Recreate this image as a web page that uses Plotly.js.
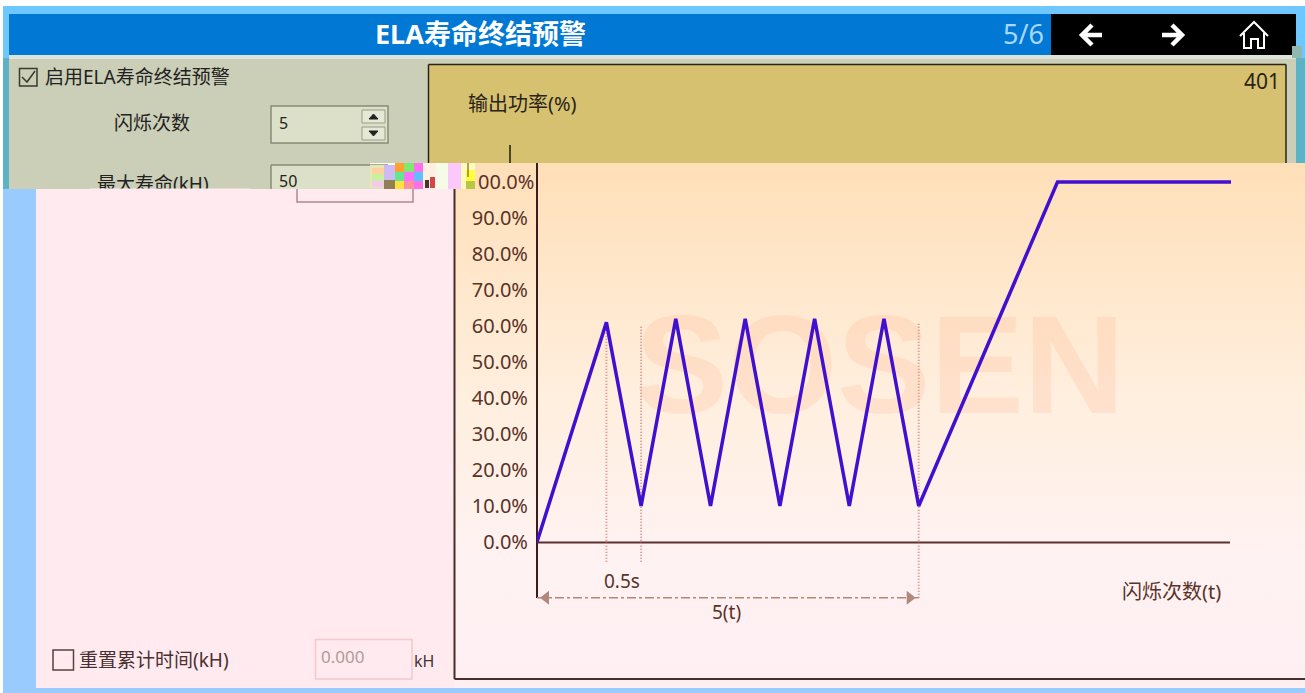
<!DOCTYPE html>
<html><head><meta charset="utf-8">
<script src="https://cdn.plot.ly/plotly-3.0.1.min.js"></script>
<style>
html,body{margin:0;padding:0;background:#fff;overflow:hidden}
#panel{position:absolute;left:454px;top:163px;width:851px;height:530px;background:linear-gradient(#FFDFB8 0%,#FFEFDF 45%,#FFF2F2 75%,#FFEFF3 100%)}
#chart{position:absolute;left:0;top:0;width:1305px;height:693px}
</style></head><body>
<div id="panel"></div><div id="chart"></div>
<script>
// Output-power curve: time in seconds, power in percent
const timeS = [0, 1, 1.5, 2, 2.5, 3, 3.5, 4, 4.5, 5, 5.5, 7.5, 10];
const powerPct = [0, 61, 10, 62, 10, 62, 10, 62, 10, 62, 10, 100, 100];
const yTickVals = [0, 10, 20, 30, 40, 50, 60, 70, 80, 90];
const yTickText = ['0.0%', '10.0%', '20.0%', '30.0%', '40.0%', '50.0%', '60.0%', '70.0%', '80.0%', '90.0%'];
const guideTimes = [1, 1.5, 5.5];
const guideBottoms = [-5.5, -5.5, -15.5];
const guideTops = [60, 60, 61];
const spanTimes = [0.13, 5.37];

const W = 1305, H = 693, L = 537;
const PXX = 69.4, PXY = 3.6, BASE = 542;
const X = p => (p - L) / (W - L), Y = p => 1 - p / H;
const FONT = '"Noto Sans","Noto Sans CJK SC",sans-serif';
const INK = '#5a3328';

function rect(x0, y0, x1, y1, fill, line, lw) {
  return {type:'rect', xref:'paper', yref:'paper', x0:X(x0), x1:X(x1), y0:Y(y1), y1:Y(y0),
    fillcolor:fill, line: line ? {color:line, width:lw||1} : {width:0}, layer:'below'};
}
function path(cmds, color, width, fill) {
  const d = cmds.map(c => c[0] + (c.length > 1 ? X(c[1]) + ',' + Y(c[2]) : '')).join(' ');
  return {type:'path', xref:'paper', yref:'paper', path:d, line:{color:color, width:width},
    fillcolor: fill || 'rgba(0,0,0,0)', layer:'below'};
}
function seg(x0, y0, x1, y1, color, width) {
  return {type:'line', xref:'paper', yref:'paper', x0:X(x0), x1:X(x1), y0:Y(y0), y1:Y(y1),
    line:{color:color, width:width}, layer:'below'};
}
function label(text, px, py, size, color, anchor, extra) {
  return Object.assign({text:text, xref:'paper', yref:'paper', x:X(px), y:Y(py), showarrow:false,
    xanchor:anchor||'left', yanchor:'middle', font:{family:FONT, size:size, color:color||INK}}, extra||{});
}

const shapes = [
  // lower area
  rect(3, 189, 36, 693, '#99CBFF'),
  rect(36, 189, 454, 688, '#FFEBEF'),
  rect(36, 688, 1305, 693, '#99CBFF'),
  rect(297, 180, 413, 202, 'rgba(0,0,0,0)', '#B08890', 1.5),
  // chrome: bands and strips
  rect(3, 6, 1305, 14, '#6EC8FF'),
  rect(3, 14, 9, 58, '#6EC8FF'),
  rect(1296, 14, 1305, 58, '#6EC8FF'),
  rect(3, 58, 9, 189, '#5DB2C6'),
  rect(1296, 58, 1305, 163, '#5DB2C6'),
  rect(9, 14, 1051, 55, '#0078D4'),
  rect(1051, 14, 1296, 55, '#000000'),
  rect(9, 55, 1296, 59, '#DDE4DC'),
  rect(1292, 46, 1302, 58, '#8FB8B0'),
  rect(9, 59, 370, 189, '#CBCFB7'),
  rect(370, 59, 1296, 163, '#CBCFB7'),
  // upper tan box, open at the bottom where the capture is cut
  rect(428.5, 64.5, 1286, 163, '#D6C171'),
  seg(428.5, 64.5, 1286, 64.5, '#2a2418', 1.5),
  seg(428.5, 64.5, 428.5, 163, '#2a2418', 1.5),
  seg(1286, 64.5, 1286, 163, '#2a2418', 1.5),
  seg(510, 145, 510, 163, '#1c1a10', 1.5),
  // nav icons
  path([['M',1102,35],['L',1083,35],['M',1092,25],['L',1082,35],['L',1092,45]], '#fff', 4.5),
  path([['M',1162,35],['L',1181,35],['M',1172,25],['L',1182,35],['L',1172,45]], '#fff', 4.5),
  path([['M',1240,36],['L',1254,22],['L',1268,36],['M',1244,33],['L',1244,48],['L',1251,48],['L',1251,39],['L',1258,39],['L',1258,48],['L',1264,48],['L',1264,33]], '#fff', 2),
  // enable checkbox
  rect(19.5, 68.5, 37, 86, 'rgba(0,0,0,0)', '#3a3a30', 1.5),
  path([['M',22,77],['L',27,82],['L',35,71]], '#3a3a30', 1.5),
  // inputs upper
  rect(271, 106, 388, 143, '#DDE0C8', '#8a8b76', 1.5),
  rect(362, 110, 385, 123, '#E6E8D6', '#9a9b88', 1),
  rect(362, 127, 385, 140, '#E6E8D6', '#9a9b88', 1),
  path([['M',369,119],['L',373.5,114],['L',378,119],['Z']], '#222', 1, '#222'),
  path([['M',369,131],['L',373.5,136],['L',378,131],['Z']], '#222', 1, '#222'),
  rect(271, 165, 388, 189, '#DDE0C8'),
  seg(271, 165, 388, 165, '#8a8b76', 1.5),
  seg(271, 165, 271, 189, '#8a8b76', 1.5),
  // garbled blocks between the two captures
  rect(370, 165, 384, 188, '#E9E7B0'),
  rect(372, 168, 384, 174, '#FFD0A0'), rect(372, 174, 384, 181, '#C8F0A0'), rect(372, 181, 384, 187, '#F5C8F0'),
  rect(384, 165, 395, 180, '#CDBBF2'), rect(384, 180, 395, 189, '#8F7F55'),
  rect(395, 163, 404, 172, '#FFA030'), rect(404, 163, 414, 172, '#80E870'), rect(414, 163, 423, 172, '#FF70F0'),
  rect(395, 172, 404, 181, '#60E890'), rect(404, 172, 414, 181, '#FF70FF'), rect(414, 172, 423, 181, '#60C0FF'),
  rect(395, 181, 404, 189, '#FFE040'), rect(404, 181, 414, 189, '#FF90A0'), rect(414, 181, 423, 189, '#FF70E0'),
  rect(423, 163, 436, 189, '#FFEFE0'),
  rect(425, 180, 429, 188, '#503030'), rect(430, 177, 435, 188, '#D04848'),
  rect(436, 163, 448, 189, '#F6FBE8'),
  rect(448, 163, 461, 189, '#FBC8FB'),
  rect(461, 163, 475, 189, '#FBFBC0'),
  rect(466, 170, 475, 181, '#FFFF40'),
  rect(466, 181, 475, 189, '#B8C840'),
  seg(468, 163, 468, 177, '#9A8020', 1.5),
  // chart frame
  seg(454.5, 189, 454.5, 679, '#4a2c28', 2),
  seg(454.5, 679, 1305, 679, '#4a2c28', 2),
  // chart axes
  seg(537, 163, 537, 598, '#3c1c1c', 2),
  seg(537, 542.5, 1230, 542.5, '#5a3030', 2),
  // reset checkbox and input
  rect(53, 650, 73.5, 670, 'rgba(0,0,0,0)', '#5a4040', 1.5),
  rect(315.5, 639.5, 412, 679, 'rgba(0,0,0,0)', '#F4C8CC', 1.5)
];
// guide lines and time span, on the chart's own scales
guideTimes.forEach((t, i) => shapes.push({type:'line', xref:'x', yref:'y', x0:t, x1:t,
  y0:guideBottoms[i], y1:guideTops[i], line:{color:'#D08888', width:2, dash:'1px,2px'}, layer:'below'}));
shapes.push({type:'line', xref:'x', yref:'y', x0:0, x1:5.5, y0:-15.5, y1:-15.5,
  line:{color:'#B08878', width:1.5, dash:'dashdot'}, layer:'below'});

const traces = [
  {x:[4.94], y:[45.5], mode:'text', text:['SOSEN'], textposition:'middle center', hoverinfo:'skip',
   textfont:{family:'"Liberation Sans",sans-serif', size:140, color:'rgba(255,170,130,0.2)', weight:700}},
  {x:spanTimes, y:[-15.5,-15.5], mode:'markers', hoverinfo:'skip', cliponaxis:false,
   marker:{symbol:['triangle-left','triangle-right'], size:12, color:'#B08880'}},
  {x:timeS, y:powerPct, mode:'lines', line:{color:'#4010D0', width:3.5}, cliponaxis:false, hoverinfo:'skip'}
];

const annotations = [
  label('ELA寿命终结预警', 480, 34, 27, '#FFFFFF', 'center', {font:{family:FONT, size:27, color:'#fff', weight:700}}),
  label('5/6', 1046, 34, 27, '#A8D8FF', 'right'),
  label('启用ELA寿命终结预警', 43, 77, 19, '#222', 'left'),
  label('闪烁次数', 112, 123, 19, '#222', 'left'),
  label('5', 277, 123, 16, '#222', 'left'),
  label('最大寿命(kH)', 95, 184, 19, '#222', 'left'),
  label(' ', 170, 195, 12, '#222', 'center', {width:160, height:12, bgcolor:'#FFEBEF', borderpad:0}),
  label('50', 277, 181, 16, '#222', 'left'),
  label('输出功率(%)', 466, 103, 20, '#2a2418', 'left'),
  label('401', 1282, 81, 21, '#2a2418', 'right'),
  label('00.0%', 536, 181, 20, INK, 'right'),
  label('0.5s', 602, 581, 19, INK, 'left'),
  label('5(t)', 726, 612, 19, INK, 'center'),
  label('闪烁次数(t)', 1120, 591, 20, INK, 'left'),
  label('重置累计时间(kH)', 77, 660, 19, '#4a3030', 'left'),
  label('0.000', 319, 656, 17, '#B09A9A', 'left'),
  label('kH', 412, 661, 16, '#4a3030', 'left')
];

const layout = {
  width:W, height:H, margin:{l:L, r:0, t:0, b:0, pad:0},
  paper_bgcolor:'rgba(0,0,0,0)', plot_bgcolor:'rgba(0,0,0,0)', showlegend:false,
  xaxis:{range:[0, (W-L)/PXX], visible:false, fixedrange:true},
  yaxis:{range:[(BASE-H)/PXY, BASE/PXY], tickmode:'array', tickvals:yTickVals, ticktext:yTickText,
    showgrid:false, zeroline:false, showline:false, ticks:'outside', ticklen:4, tickcolor:'rgba(0,0,0,0)',
    tickfont:{family:FONT, size:20, color:INK}, fixedrange:true},
  shapes:shapes, annotations:annotations
};
Plotly.newPlot('chart', traces, layout, {displayModeBar:false, staticPlot:true});
</script></body></html>
